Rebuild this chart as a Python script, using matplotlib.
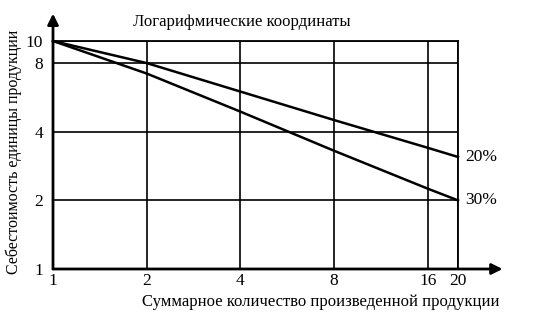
import matplotlib
matplotlib.use("Agg")
import matplotlib.pyplot as plt
import matplotlib.ticker as mticker

# values (log-log learning curves)
volume   = [1, 2, 4, 8, 16, 20]
cost_20  = [10, 8.0, 6.0, 4.5, 3.4, 3.1]
cost_30  = [10, 7.2, 4.9, 3.3, 2.25, 2.0]
x_ticks  = [1, 2, 4, 8, 16, 20]
y_ticks  = [1, 2, 4, 8, 10]

title   = "Логарифмические координаты"
x_label = "Суммарное количество произведенной продукции"
y_label = "Себестоимость единицы продукции"

plt.rcParams.update({
    "font.family": "Liberation Serif",
    "text.color":  "black",
})

fig = plt.figure(figsize=(5.43, 3.12), dpi=100)
ax = fig.add_axes([53 / 543, 43 / 312, 405 / 543, 228 / 312])

ax.set_xscale("log", base=2)
ax.set_yscale("log", base=2)
ax.set_xlim(1, 20)
ax.set_ylim(1, 10)

ax.set_xticks(x_ticks)
ax.set_yticks(y_ticks)
ax.xaxis.set_major_formatter(mticker.FuncFormatter(lambda v, _: f"{v:g}"))
ax.yaxis.set_major_formatter(mticker.FuncFormatter(lambda v, _: f"{v:g}"))
ax.xaxis.set_minor_locator(mticker.NullLocator())
ax.yaxis.set_minor_locator(mticker.NullLocator())
ax.tick_params(length=0, labelsize=12.5)
ax.tick_params(axis="x", pad=3)
ax.tick_params(axis="y", pad=7)

ax.grid(True, color="black", linewidth=1.2)

for side in ("left", "bottom"):
    ax.spines[side].set_visible(False)
for side in ("top", "right"):
    ax.spines[side].set_linewidth(1.3)

# axes with arrows
ax.annotate("", xy=(1.11, 0), xytext=(0, 0), xycoords="axes fraction",
            arrowprops=dict(arrowstyle="-|>", color="black", lw=2,
                            mutation_scale=16, shrinkA=0, shrinkB=0),
            annotation_clip=False)
ax.annotate("", xy=(0, 1.12), xytext=(0, 0), xycoords="axes fraction",
            arrowprops=dict(arrowstyle="-|>", color="black", lw=2,
                            mutation_scale=16, shrinkA=0, shrinkB=0),
            annotation_clip=False)

ax.plot(volume, cost_20, color="black", linewidth=1.8, clip_on=False)
ax.plot(volume, cost_30, color="black", linewidth=1.8, clip_on=False)

ax.annotate("20%", xy=(volume[-1], cost_20[-1]), xytext=(5, 0),
            textcoords="offset points", va="center", ha="left", fontsize=12.5)
ax.annotate("30%", xy=(volume[-1], cost_30[-1]), xytext=(5, 0),
            textcoords="offset points", va="center", ha="left", fontsize=12.5)

fig.text(242 / 543, 1 - 22 / 312, title, ha="center", va="center", fontsize=12)
fig.text(321 / 543, 1 - 302 / 312, x_label, ha="center", va="center", fontsize=12)
fig.text(14 / 543, 1 - 152 / 312, y_label, ha="center", va="center",
         rotation=90, fontsize=11.5)

fig.savefig("out.png", dpi=100, facecolor="white")
